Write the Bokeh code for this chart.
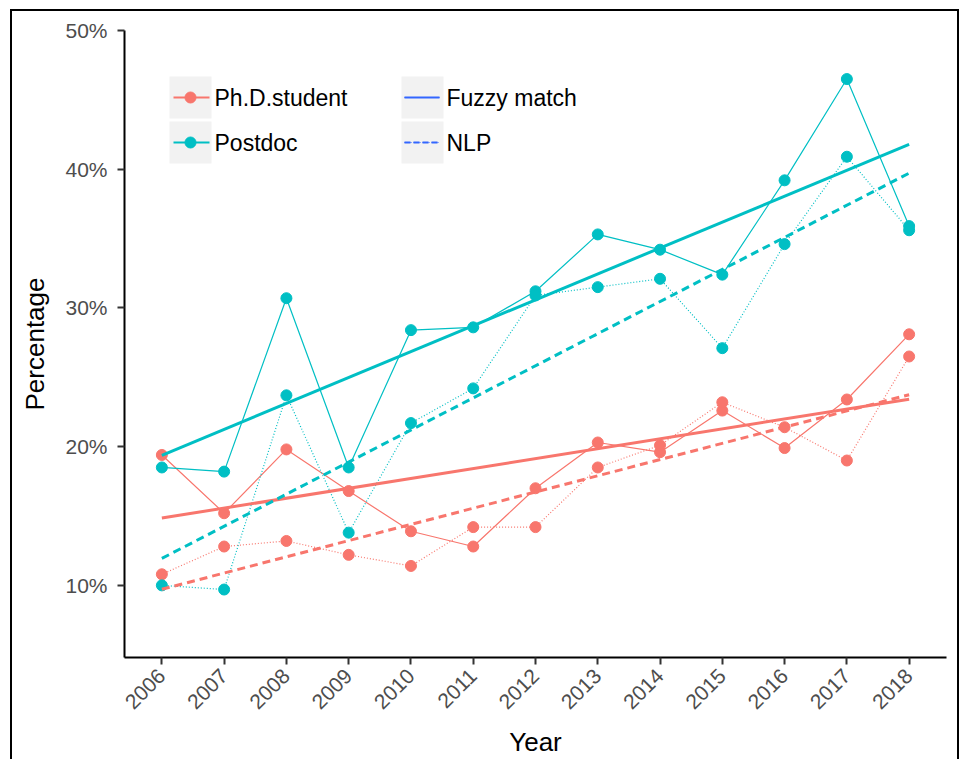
import numpy as np
from math import pi
from bokeh.plotting import figure
from bokeh.models import Range1d, FixedTicker, PrintfTickFormatter
from bokeh.core.properties import value
from bokeh.embed import file_html
from bokeh.resources import INLINE

# ---------------- data ----------------
years = [2006, 2007, 2008, 2009, 2010, 2011, 2012, 2013, 2014, 2015, 2016, 2017, 2018]
phd_fuzzy = [19.4, 15.2, 19.8, 16.8, 13.9, 12.8, 17.0, 20.3, 19.6, 22.6, 19.9, 23.4, 28.1]
phd_nlp = [10.8, 12.8, 13.2, 12.2, 11.4, 14.2, 14.2, 18.5, 20.1, 23.2, 21.4, 19.0, 26.5]
postdoc_fuzzy = [18.5, 18.2, 30.7, 18.5, 28.4, 28.6, 31.2, 35.3, 34.2, 32.4, 39.2, 46.5, 35.9]
postdoc_nlp = [10.0, 9.7, 23.7, 13.8, 21.7, 24.2, 30.9, 31.5, 32.1, 27.1, 34.6, 40.9, 35.6]
y_ticks = [10, 20, 30, 40, 50]
group_labels = ["Ph.D.student", "Postdoc"]
method_labels = ["Fuzzy match", "NLP"]

RED = "#F8766D"
TEAL = "#00BFC4"
BLUE = "#3366FF"
FONT = "Liberation Sans"

FW, FH = 822, 627
p = figure(frame_width=FW, frame_height=FH,
           min_border_left=112, min_border_top=19, min_border_right=11, min_border_bottom=100,
           x_range=Range1d(2005.4, 2018.6), y_range=Range1d(4.8, 50),
           output_backend="svg", toolbar_location=None)
p.extra_x_ranges = {"px": Range1d(0, FW)}
p.extra_y_ranges = {"px": Range1d(FH, 0)}

p.background_fill_color = "white"
p.border_fill_color = "white"
p.outline_line_color = None
p.xgrid.visible = False
p.ygrid.visible = False

series = [
    (phd_fuzzy, RED, "solid"),
    (phd_nlp, RED, "1 2"),
    (postdoc_fuzzy, TEAL, "solid"),
    (postdoc_nlp, TEAL, "1 2"),
]
trend_dash = {"solid": "solid", "1 2": "8 5"}

for vals, col, dash in series:
    p.line(years, vals, line_color=col, line_width=1.2, line_dash=dash)
for vals, col, dash in series:
    p.scatter(years, vals, size=11, fill_color=col, line_color=col)
for vals, col, dash in series:
    coef = np.polyfit(years, vals, 1)
    xs = [years[0], years[-1]]
    p.line(xs, list(np.polyval(coef, xs)), line_color=col, line_width=3,
           line_dash=trend_dash[dash])

# ---------------- axes ----------------
p.xaxis.ticker = FixedTicker(ticks=years)
p.yaxis.ticker = FixedTicker(ticks=y_ticks)
p.yaxis.formatter = PrintfTickFormatter(format="%d%%")
p.xaxis.major_label_orientation = pi / 4
for ax in (p.xaxis, p.yaxis):
    ax.axis_line_color = "black"
    ax.axis_line_width = 2
    ax.major_tick_line_color = "#333333"
    ax.major_tick_line_width = 2
    ax.major_tick_out = 7
    ax.major_tick_in = 0
    ax.minor_tick_line_color = None
    ax.major_label_text_font = FONT
    ax.major_label_text_font_size = "21px"
    ax.major_label_text_color = "#4D4D4D"
    ax.axis_label_text_font = FONT
    ax.axis_label_text_font_size = "26px"
    ax.axis_label_text_font_style = "normal"
    ax.axis_label_text_color = "black"
p.xaxis.axis_label = "Year"
p.yaxis.axis_label = "Percentage"
p.xaxis.major_label_standoff = 8
p.yaxis.major_label_standoff = 10
p.xaxis.axis_label_standoff = 9
p.yaxis.axis_label_standoff = 12

# ---------------- legend (frame pixel space) ----------------
key_lefts = [45, 277]
key_size = 42
row_tops = [46, 91]
for kl in key_lefts:
    for rt in row_tops:
        p.quad(left=kl, right=kl + key_size, top=rt, bottom=rt + key_size,
               fill_color="#F2F2F2", line_color=None,
               x_range_name="px", y_range_name="px")

# colour legend
for rt, col, lab in zip(row_tops, [RED, TEAL], group_labels):
    cy = rt + key_size / 2
    p.line([key_lefts[0] + 4, key_lefts[0] + key_size - 2], [cy, cy], line_color=col,
           line_width=2, x_range_name="px", y_range_name="px")
    p.scatter([key_lefts[0] + key_size / 2], [cy], size=11, fill_color=col, line_color=col,
              x_range_name="px", y_range_name="px")
    p.text([key_lefts[0] + key_size + 3], [cy], text=[lab], text_font=value(FONT),
           text_font_size="23px", text_color="black", text_baseline="middle",
           text_align="left", x_range_name="px", y_range_name="px")

# linetype legend
for rt, dashes, lab in zip(row_tops, [("solid", "solid"), ("6 3", "1 2")], method_labels):
    cy = rt + key_size / 2
    xs = [key_lefts[1] + 3, key_lefts[1] + key_size - 4]
    p.line(xs, [cy, cy], line_color=BLUE, line_width=2.2, line_dash=dashes[0],
           x_range_name="px", y_range_name="px")
    p.line(xs, [cy, cy], line_color=BLUE, line_width=1, line_dash=dashes[1],
           x_range_name="px", y_range_name="px")
    p.text([key_lefts[1] + key_size + 3], [cy], text=[lab], text_font=value(FONT),
           text_font_size="23px", text_color="black", text_baseline="middle",
           text_align="left", x_range_name="px", y_range_name="px")

p.styles = {"margin-left": "10px", "margin-top": "9px",
            "border-left": "2px solid black", "border-top": "2px solid black",
            "border-right": "2px solid black"}

open("out.html", "w").write(file_html(p, INLINE))
